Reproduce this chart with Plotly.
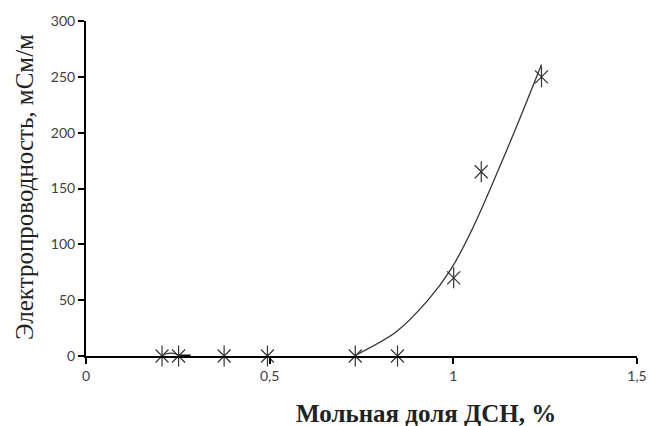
import plotly.graph_objects as go

# data
x_vals = [0.207, 0.252, 0.376, 0.494, 0.733, 0.848, 1.001, 1.076, 1.240]
y_vals = [0, 0, 0, 0, 0, 0, 70, 165, 250]

# trend line
trend_x = [0.730, 0.842, 0.931, 0.994, 1.052, 1.164, 1.240]
trend_y = [0, 21, 50, 78, 114, 199, 261]

# small trend artefacts near the start
arc_x = [0.209, 0.219, 0.231, 0.243, 0.251]
arc_y = [0.5, 2.0, 2.6, 2.0, 0.5]
seg_x = [0.254, 0.285]
seg_y = [0, 0]

x_ticks = [0, 0.5, 1, 1.5]
x_ticklabels = ["0", "0,5", "1", "1,5"]
y_ticks = [0, 50, 100, 150, 200, 250, 300]

MK = "#333333"
fig = go.Figure()
fig.add_trace(go.Scatter(x=trend_x, y=trend_y, mode="lines",
                         line=dict(color="#333333", width=1.3, shape="spline", smoothing=0.8),
                         hoverinfo="skip", cliponaxis=False))
fig.add_trace(go.Scatter(x=arc_x, y=arc_y, mode="lines",
                         line=dict(color="#333333", width=1.2, shape="spline"),
                         cliponaxis=False))
fig.add_trace(go.Scatter(x=seg_x, y=seg_y, mode="lines",
                         line=dict(color="#111111", width=3),
                         cliponaxis=False))
fig.add_trace(go.Scatter(x=x_vals, y=y_vals, mode="markers",
                         marker=dict(symbol="x-thin-open", size=13, color=MK,
                                     line=dict(color=MK, width=1.2)),
                         cliponaxis=False))
fig.add_trace(go.Scatter(x=x_vals, y=y_vals, mode="markers",
                         marker=dict(symbol="line-ns-open", size=15, color=MK,
                                     line=dict(color=MK, width=1.2)),
                         cliponaxis=False))

serif = "Liberation Serif, Times New Roman, serif"
fig.update_layout(
    width=659, height=426,
    margin=dict(l=86, r=14, t=19, b=70),
    paper_bgcolor="white", plot_bgcolor="white",
    showlegend=False,
    font=dict(family="Lato, Open Sans, sans-serif", size=14, color="#404040"),
    xaxis=dict(range=[0, 1.5], tickvals=x_ticks, ticktext=x_ticklabels,
               showgrid=False, zeroline=False, showline=True,
               linecolor="black", linewidth=2,
               ticks="outside", ticklen=6, tickwidth=2, tickcolor="black",
               tickfont=dict(size=14, color="#404040")),
    yaxis=dict(range=[0, 300], tickvals=y_ticks,
               showgrid=False, zeroline=False, showline=True,
               linecolor="black", linewidth=2,
               ticks="outside", ticklen=6, tickwidth=2, tickcolor="black",
               tickfont=dict(size=14, color="#404040")),
    annotations=[
        dict(text="<b>Мольная доля ДСН, %</b>", xref="paper", yref="paper",
             x=(431 - 86) / 559, y=-(414 - 356) / 337, xanchor="center", yanchor="middle",
             showarrow=False, font=dict(family=serif, size=25, color="#222222")),
        dict(text="Электропроводность, мСм/м", xref="paper", yref="paper",
             x=-(86 - 23) / 559, y=(356 - 186) / 337, xanchor="center", yanchor="middle",
             textangle=-90, showarrow=False,
             font=dict(family=serif, size=25, color="#222222")),
    ],
)

fig.write_html("out.html")
